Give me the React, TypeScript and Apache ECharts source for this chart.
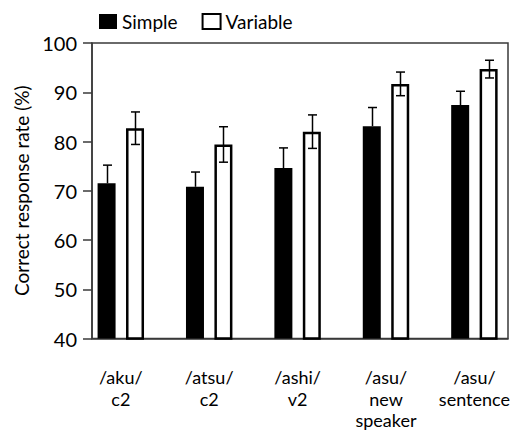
import React, { useEffect, useRef } from "react";
import * as echarts from "echarts";

const categories = ["/aku/\nc2", "/atsu/\nc2", "/ashi/\nv2", "/asu/\nnew\nspeaker", "/asu/\nsentence"];
const simpleValues = [71.5, 70.8, 74.6, 83.1, 87.4];
const simpleErrors = [3.7, 3.0, 4.1, 3.8, 2.8];
const variableValues = [82.7, 79.4, 82.0, 91.7, 94.7];
const variableErrors = [3.3, 3.6, 3.4, 2.4, 1.8];
const yTicks = { min: 40, max: 100, interval: 10 };

const FONT = "Lato";
const BAR_W = 18;
const BAR_GAP = 0.58;
const OFFSET = (BAR_W + BAR_W * BAR_GAP) / 2;

function errorRenderer(offset: number, lowerVisible: boolean) {
  return (params: any, api: any) => {
    const idx = api.value(0);
    const mean = api.value(1);
    const err = api.value(2);
    const top = api.coord([idx, mean + err]);
    const mid = api.coord([idx, mean]);
    const bot = api.coord([idx, mean - err]);
    const x = Math.round(top[0] + offset) + 0.5;
    const cap = 4.5;
    const style = { stroke: "#000", lineWidth: 1.5 };
    const children: any[] = [
      { type: "line", shape: { x1: x, y1: top[1], x2: x, y2: lowerVisible ? bot[1] : mid[1] }, style },
      { type: "line", shape: { x1: x - cap, y1: top[1], x2: x + cap, y2: top[1] }, style },
    ];
    if (lowerVisible) {
      children.push({ type: "line", shape: { x1: x - cap, y1: bot[1], x2: x + cap, y2: bot[1] }, style });
    }
    return { type: "group", children };
  };
}

export default function App() {
  const ref = useRef<HTMLDivElement>(null);
  useEffect(() => {
    if (!ref.current) return;
    const chart = echarts.init(ref.current, undefined, { renderer: "svg" });
    const top = 43;
    const bottom = 435 - 338.5;
    chart.setOption({
      animation: false,
      backgroundColor: "#fff",
      textStyle: { fontFamily: FONT, color: "#000" },
      legend: {
        left: 99,
        top: 12,
        padding: 0,
        itemWidth: 18,
        itemHeight: 15,
        itemGap: 24,
        icon: "rect",
        textStyle: { fontSize: 19, fontFamily: FONT, color: "#000" },
        data: ["Simple", "Variable"],
      },
      grid: [
        {
          left: 92,
          right: 14,
          top,
          bottom,
          show: true,
          borderColor: "#3a3a3a",
          borderWidth: 1.5,
          backgroundColor: "transparent",
        },
        { left: 76.6, width: 442, top, bottom },
      ],
      xAxis: [
        {
          gridIndex: 0,
          type: "value",
          min: 0,
          max: 1,
          axisLine: { show: true, lineStyle: { color: "#3a3a3a", width: 1.5 } },
          axisTick: { show: false },
          axisLabel: { show: false },
          splitLine: { show: false },
        },
        {
          gridIndex: 1,
          type: "category",
          data: categories,
          axisLine: { show: false },
          axisTick: { show: false },
          axisLabel: {
            fontSize: 18,
            fontFamily: FONT,
            color: "#000",
            lineHeight: 21.5,
            margin: 28,
            interval: 0,
          },
        },
      ],
      yAxis: [
        {
          gridIndex: 0,
          type: "value",
          min: yTicks.min,
          max: yTicks.max,
          interval: yTicks.interval,
          name: "Correct response rate (%)",
          nameLocation: "middle",
          nameGap: 60,
          nameTextStyle: { fontSize: 19, fontFamily: FONT, color: "#000" },
          axisLine: { show: true, lineStyle: { color: "#3a3a3a", width: 1.5 } },
          axisTick: { show: true, length: 9, lineStyle: { color: "#3a3a3a", width: 1.5 } },
          axisLabel: { fontSize: 20, fontFamily: FONT, color: "#000", margin: 15 },
          splitLine: { show: false },
        },
        {
          gridIndex: 1,
          type: "value",
          min: yTicks.min,
          max: yTicks.max,
          show: false,
        },
      ],
      series: [
        {
          name: "Simple",
          type: "bar",
          xAxisIndex: 1,
          yAxisIndex: 1,
          barWidth: BAR_W,
          barGap: BAR_GAP * 100 + "%",
          itemStyle: { color: "#000" },
          data: simpleValues,
        },
        {
          name: "Variable",
          type: "bar",
          xAxisIndex: 1,
          yAxisIndex: 1,
          barWidth: BAR_W,
          barGap: BAR_GAP * 100 + "%",
          itemStyle: { color: "#fff", borderColor: "#000", borderWidth: 2.5 },
          data: variableValues,
        },
        {
          type: "custom",
          xAxisIndex: 1,
          yAxisIndex: 1,
          z: 5,
          renderItem: errorRenderer(-OFFSET, false),
          data: simpleValues.map((v, i) => [i, v, simpleErrors[i]]),
        },
        {
          type: "custom",
          xAxisIndex: 1,
          yAxisIndex: 1,
          z: 5,
          renderItem: errorRenderer(OFFSET, true),
          data: variableValues.map((v, i) => [i, v, variableErrors[i]]),
        },
      ],
    });
    return () => chart.dispose();
  }, []);
  return (
    <div
      ref={ref}
      style={{ position: "fixed", left: 0, top: 0, width: 522, height: 435 }}
    />
  );
}
